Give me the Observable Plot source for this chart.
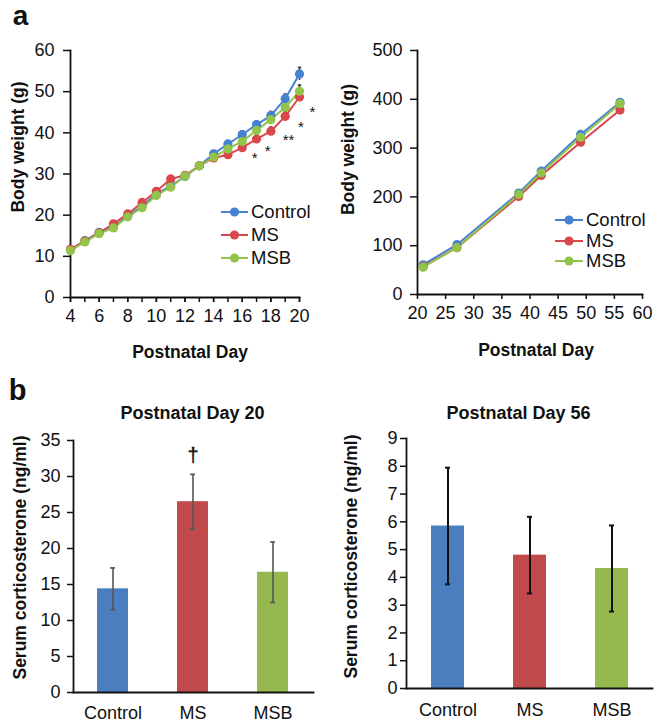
<!DOCTYPE html>
<html><head><meta charset="utf-8">
<script src="https://cdn.jsdelivr.net/npm/d3@7"></script>
<script src="https://cdn.jsdelivr.net/npm/@observablehq/plot@0.6"></script>
<style>
body{margin:0;background:#fff;font-family:"Liberation Sans",Arial,sans-serif;}
#root{position:relative;width:660px;height:726px;overflow:hidden;background:#fff}
.panel{position:absolute}
.lrow{position:absolute;display:flex;align-items:center;white-space:nowrap;font-size:18.5px;line-height:20px;color:#111}
</style></head><body><div id="root"></div>
<script>
const FONT = '"Liberation Sans", Arial, sans-serif';

// ---------- data ----------
const groups = ["Control", "MS", "MSB"];
const lineColors = ["#4682d2", "#d9474a", "#92c44a"];
const barColors = ["#4a7ebf", "#c0494b", "#96b94f"];

// Panel a, left: postnatal days 4-20
const days = [4,5,6,7,8,9,10,11,12,13,14,15,16,17,18,19,20];
const controlW = [11.6,13.8,15.8,17.1,19.8,22.2,25.2,27.1,29.4,32.0,34.9,37.3,39.6,42.0,44.2,48.3,54.3];
const msW      = [11.7,13.7,15.7,17.9,20.3,23.1,25.8,28.8,29.7,32.0,33.9,34.7,36.4,38.5,40.4,44.0,48.7];
const msbW     = [11.4,13.5,15.5,16.9,19.6,21.8,24.8,26.8,29.5,32.0,34.1,36.1,37.9,40.6,43.2,46.2,50.1];
const controlE = [0.3,0.4,0.4,0.5,0.5,0.6,0.6,0.7,0.7,0.7,0.8,0.8,0.9,0.9,1.0,1.1,1.6];
const msE      = [0.3,0.4,0.4,0.5,0.5,0.6,0.6,0.7,0.7,0.7,0.8,0.8,0.9,1.1,1.0,1.1,1.1];
const msbE     = [0.3,0.4,0.4,0.5,0.5,0.6,0.6,0.8,0.7,0.7,0.8,0.8,0.9,0.9,1.0,1.1,1.5];
const dayTicks = [4,5,6,7,8,9,10,11,12,13,14,15,16,17,18,19,20];
const dayLabels = [4,6,8,10,12,14,16,18,20];
const weightTicksA = [0,10,20,30,40,50,60];
const stars = [
  {day:16.87, v:34.7, t:"*"},
  {day:17.77, v:36.4, t:"*"},
  {day:19.23, v:39.1, t:"**"},
  {day:20.1, v:42.3, t:"*"},
  {day:20.9, v:46.1, t:"*"}
];

// Panel a, right: postnatal days 21-56
const days2 = [21,27,38,42,49,56];
const controlW2 = [61,102,208,253,328,394];
const msW2      = [57,96,201,244,312,378];
const msbW2     = [56,96,205,249,322,391];
const controlE2 = [2,3,4,5,6,6];
const msE2      = [2,3,4,5,6,6];
const msbE2     = [2,3,4,5,6,6];
const dayTicks2 = [20,25,30,35,40,45,50,55,60];
const weightTicksB = [0,100,200,300,400,500];

// Panel b: serum corticosterone
const cats = ["Control", "MS", "MSB"];
const cort20 = [14.4, 26.5, 16.7];
const cort20E = [2.9, 3.8, 4.2];
const cort56 = [5.85, 4.8, 4.32];
const cort56E = [2.1, 1.38, 1.55];
const cortTicks20 = [0,5,10,15,20,25,30,35];
const cortTicks56 = [0,1,2,3,4,5,6,7,8,9];
const dagger = [{cat:"MS", v:32.9, t:"†"}];

// ---------- tables ----------
function longTable(xs, series, errs){
  const out = [];
  xs.forEach((d,i)=> series.forEach((arr,k)=> out.push({day:d, group:groups[k], w:arr[i], e:errs[k][i]})));
  return out;
}
const tA = longTable(days, [controlW, msW, msbW], [controlE, msE, msbE]);
const tB = longTable(days2, [controlW2, msW2, msbW2], [controlE2, msE2, msbE2]);
const b20 = cats.map((c,i)=>({cat:c, v:cort20[i], e:cort20E[i]}));
const b56 = cats.map((c,i)=>({cat:c, v:cort56[i], e:cort56E[i]}));

const root = document.getElementById("root");
function place(el, left, top){
  el.classList.add("panel");
  el.style.left = left + "px"; el.style.top = top + "px";
  root.appendChild(el);
}
const baseStyle = {fontFamily: FONT, fontSize: "18px", color: "#111", background: "transparent", overflow: "visible"};

function label(text, opts){
  return Plot.text({length:1}, {text:[text], fontWeight:"bold", fontSize:17.5, fill:"#111",
    textAnchor:"middle", lineAnchor:"middle", ...opts});
}

// ---------- panel a left ----------
const pA = Plot.plot({
  width: 330, height: 365,
  marginLeft: 70, marginRight: 31, marginTop: 50, marginBottom: 68,
  style: baseStyle,
  x: {domain: [4, 20]},
  y: {domain: [0, 60]},
  color: {domain: groups, range: lineColors},
  marks: [
    Plot.axisY({ticks: weightTicksA, tickSize: 7, tickPadding: 9, strokeWidth: 1.5, label: null}),
    Plot.axisX({ticks: dayTicks, tickSize: 5, tickFormat: () => "", strokeWidth: 1.5, label: null}),
    Plot.axisX({ticks: dayLabels, tickSize: 5, tickPadding: 7, strokeWidth: 1.5, label: null}),
    Plot.frame({anchor: "left", strokeWidth: 1.8}),
    Plot.frame({anchor: "bottom", strokeWidth: 1.8}),
    Plot.ruleX(tA, {x: "day", y1: d => d.w - d.e, y2: d => d.w + d.e, stroke: "#333", strokeWidth: 1.5}),
    Plot.link(tA, {x1: d => d.day - 0.12, x2: d => d.day + 0.12, y1: d => d.w + d.e, y2: d => d.w + d.e, stroke: "#333", strokeWidth: 1.5}),
    Plot.line(tA, {x: "day", y: "w", z: "group", stroke: "group", strokeWidth: 2}),
    Plot.dot(tA, {x: "day", y: "w", fill: "group", r: 4.6}),
    Plot.text(stars, {x: "day", y: "v", text: "t", fontSize: 15, dy: 4, fill: "#111", letterSpacing: 2}),
    label("Body weight (g)", {frameAnchor: "left", rotate: -90, dx: -52, dy: -27}),
    label("Postnatal Day", {frameAnchor: "bottom", dx: 5, dy: 55}),
    label("a", {frameAnchor: "top-left", dx: -50, dy: -34, fontSize: 28})
  ]
});
place(pA, 0, 0);

// ---------- panel a right ----------
const pB = Plot.plot({
  width: 330, height: 365,
  marginLeft: 87, marginRight: 18, marginTop: 50, marginBottom: 71,
  style: baseStyle,
  x: {domain: [20, 60]},
  y: {domain: [0, 500]},
  color: {domain: groups, range: lineColors},
  marks: [
    Plot.axisY({ticks: weightTicksB, tickSize: 7, tickPadding: 8, strokeWidth: 1.5, label: null}),
    Plot.axisX({ticks: dayTicks2, tickSize: 5, tickPadding: 7, strokeWidth: 1.5, label: null}),
    Plot.frame({anchor: "left", strokeWidth: 1.8}),
    Plot.frame({anchor: "bottom", strokeWidth: 1.8}),
    Plot.ruleX(tB, {x: "day", y1: d => d.w - d.e, y2: d => d.w + d.e, stroke: "#333", strokeWidth: 1.5}),
    Plot.line(tB, {x: "day", y: "w", z: "group", stroke: "group", strokeWidth: 2}),
    Plot.dot(tB, {x: "day", y: "w", fill: "group", r: 4.6}),
    label("Body weight (g)", {frameAnchor: "left", rotate: -90, dx: -69, dy: -23}),
    label("Postnatal Day", {frameAnchor: "bottom", dx: 6, dy: 56})
  ]
});
place(pB, 330, 0);

// ---------- panel b left ----------
const pC = Plot.plot({
  width: 330, height: 361,
  marginLeft: 73, marginRight: 17, marginTop: 75, marginBottom: 34,
  style: baseStyle,
  x: {domain: cats, paddingInner: 0.61, paddingOuter: 0.305},
  y: {domain: [0, 35]},
  color: {domain: cats, range: barColors},
  marks: [
    Plot.barY(b20, {x: "cat", y: "v", fill: "cat"}),
    Plot.ruleX(b20, {x: "cat", y1: d => d.v - d.e, y2: d => d.v + d.e, stroke: "#555", strokeWidth: 1.6}),
    Plot.tickY(b20, {x: "cat", y: d => d.v + d.e, insetLeft: 13, insetRight: 13, stroke: "#555", strokeWidth: 1.6}),
    Plot.tickY(b20, {x: "cat", y: d => d.v - d.e, insetLeft: 13, insetRight: 13, stroke: "#555", strokeWidth: 1.6}),
    Plot.text(dagger, {x: "cat", y: "v", text: "t", fontSize: 20, fill: "#111", stroke: "#111", strokeWidth: 0.4}),
    Plot.axisY({ticks: cortTicks20, tickSize: 6, tickPadding: 7, strokeWidth: 1.5, label: null}),
    Plot.axisX({tickSize: 0, tickPadding: 14, label: null}),
    Plot.frame({anchor: "left", strokeWidth: 1.8}),
    Plot.frame({anchor: "bottom", strokeWidth: 1.8}),
    label("Postnatal Day 20", {frameAnchor: "top", dx: -1, dy: -27, fontSize: 18}),
    label("Serum corticosterone (ng/ml)", {frameAnchor: "left", rotate: -90, dx: -53, dy: -9}),
    label("b", {frameAnchor: "top-left", dx: -56, dy: -50, fontSize: 29})
  ]
});
place(pC, 0, 365);

// ---------- panel b right ----------
const pD = Plot.plot({
  width: 330, height: 361,
  marginLeft: 76, marginRight: 8, marginTop: 73, marginBottom: 38,
  style: baseStyle,
  x: {domain: cats, paddingInner: 0.6, paddingOuter: 0.3},
  y: {domain: [0, 9]},
  color: {domain: cats, range: barColors},
  marks: [
    Plot.barY(b56, {x: "cat", y: "v", fill: "cat"}),
    Plot.ruleX(b56, {x: "cat", y1: d => d.v - d.e, y2: d => d.v + d.e, stroke: "#111", strokeWidth: 2}),
    Plot.tickY(b56, {x: "cat", y: d => d.v + d.e, insetLeft: 14, insetRight: 14, stroke: "#111", strokeWidth: 2}),
    Plot.tickY(b56, {x: "cat", y: d => d.v - d.e, insetLeft: 14, insetRight: 14, stroke: "#111", strokeWidth: 2}),
    Plot.axisY({ticks: cortTicks56, tickSize: 6, tickPadding: 3, strokeWidth: 1.5, label: null}),
    Plot.axisX({tickSize: 0, tickPadding: 15, label: null}),
    Plot.frame({anchor: "left", strokeWidth: 1.8}),
    Plot.frame({anchor: "bottom", strokeWidth: 1.8}),
    label("Postnatal Day 56", {frameAnchor: "top", dx: -11, dy: -25, fontSize: 18}),
    label("Serum corticosterone (ng/ml)", {frameAnchor: "left", rotate: -90, dx: -55, dy: -7})
  ]
});
place(pD, 330, 365);

// ---------- legends ----------
function legend(x0, cy0, step, lineW){
  groups.forEach((g,i)=>{
    const row = document.createElement("div");
    row.className = "lrow";
    row.style.left = x0 + "px";
    row.style.top = (cy0 + i*step - 10) + "px";
    const ns = "http://www.w3.org/2000/svg";
    const s = document.createElementNS(ns, "svg");
    s.setAttribute("width", lineW); s.setAttribute("height", 20);
    const ln = document.createElementNS(ns, "line");
    ln.setAttribute("x1", 0); ln.setAttribute("x2", lineW);
    ln.setAttribute("y1", 10); ln.setAttribute("y2", 10);
    ln.setAttribute("stroke", lineColors[i]); ln.setAttribute("stroke-width", 2);
    const c = document.createElementNS(ns, "circle");
    c.setAttribute("cx", lineW/2); c.setAttribute("cy", 10); c.setAttribute("r", 4.6);
    c.setAttribute("fill", lineColors[i]);
    s.appendChild(ln); s.appendChild(c);
    const t = document.createElement("span");
    t.textContent = g; t.style.marginLeft = "3px";
    row.appendChild(s); row.appendChild(t);
    root.appendChild(row);
  });
}
legend(221, 212, 23, 27);
legend(555, 220, 20.5, 28);
</script></body></html>
